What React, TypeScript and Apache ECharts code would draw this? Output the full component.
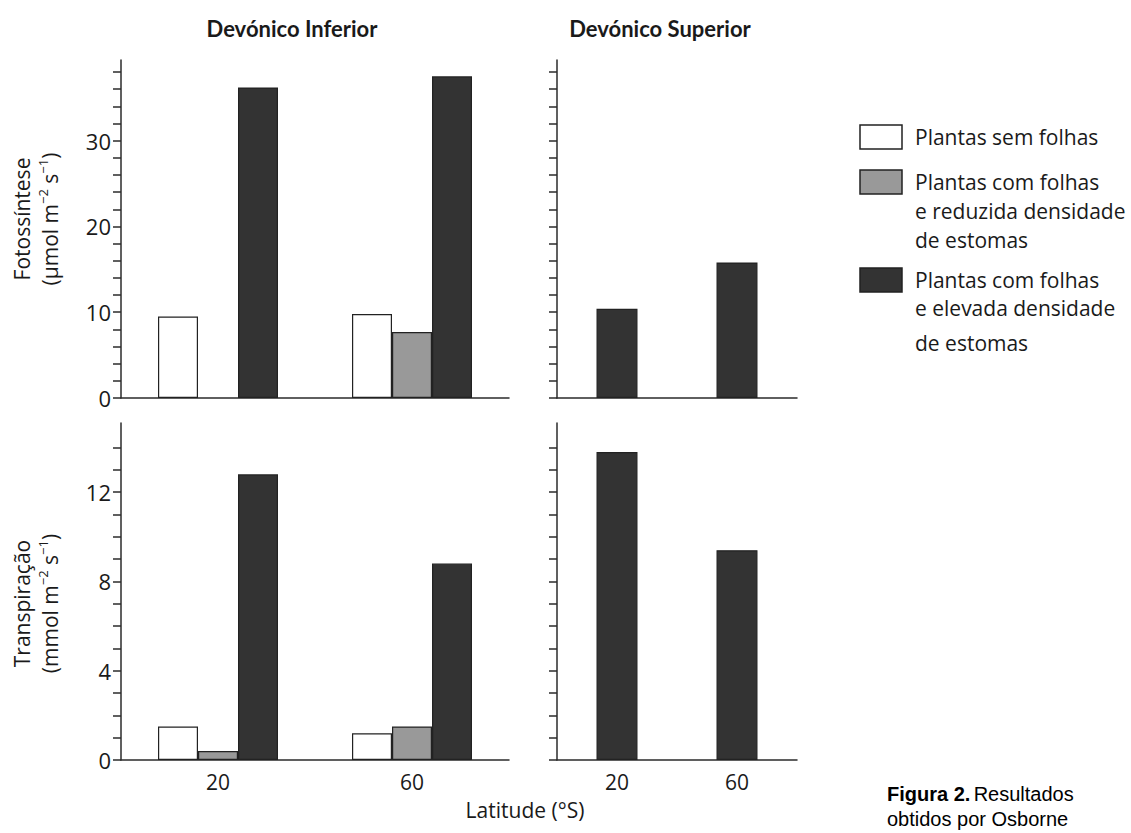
import React, { useEffect, useRef } from 'react';
import * as echarts from 'echarts';

// ---- data ----
const latitudes = ['20', '60'];
const seriesNames = ['Plantas sem folhas', 'Plantas com folhas e reduzida densidade de estomas', 'Plantas com folhas e elevada densidade de estomas'];
const legendLines = [
  ['Plantas sem folhas'],
  ['Plantas com folhas', 'e reduzida densidade', 'de estomas'],
  ['Plantas com folhas', 'e elevada densidade', 'de estomas'],
];
const periodTitles = ['Devónico Inferior', 'Devónico Superior'];

// Fotossíntese (µmol m-2 s-1)
const photoLowerNoLeaves = [9.5, 9.8];
const photoLowerLowStomata: (number | null)[] = [null, 7.7];
const photoLowerHighStomata = [36.2, 37.5];
const photoUpperHighStomata = [10.4, 15.8];

// Transpiração (mmol m-2 s-1)
const transpLowerNoLeaves = [1.5, 1.2];
const transpLowerLowStomata = [0.4, 1.5];
const transpLowerHighStomata = [12.8, 8.8];
const transpUpperHighStomata = [13.8, 9.4];

// axis ticks / labels
const photoTicks = [0, 2, 4, 6, 8, 10, 12, 14, 16, 18, 20, 22, 24, 26, 28, 30, 32, 34, 36, 38];
const photoLabels = [0, 10, 20, 30];
const transpTicks = [0, 1, 2, 3, 4, 5, 6, 7, 8, 9, 10, 11, 12, 13, 14];
const transpLabels = [0, 4, 8, 12];
const photoMax = 39.4;
const transpMax = 15.1;

const FONT = '"Open Sans", "Noto Sans", sans-serif';
const TITLE_FONT = 'Lato, "Open Sans", sans-serif';
const CAPTION_FONT = '"Liberation Sans", Arial, sans-serif';
const TEXT = '#1a1a1a';
const AXIS = '#2b2b2b';
const FILLS = ['#ffffff', '#999999', '#333333'];
const BORDER = '#222222';

export default function App() {
  const ref = useRef<HTMLDivElement>(null);
  useEffect(() => {
    if (!ref.current) return;
    const chart = echarts.init(ref.current, null, { renderer: 'svg' });

    const grids = [
      { left: 121, top: 60, width: 388, height: 338 },
      { left: 557, top: 60, width: 240, height: 338 },
      { left: 121, top: 423, width: 388, height: 337 },
      { left: 557, top: 423, width: 240, height: 337 },
    ];

    const xAxis = grids.map((_, i) => ({
      type: 'category',
      gridIndex: i,
      data: latitudes,
      axisLine: { show: true, lineStyle: { color: AXIS, width: 1.5 } },
      axisTick: { show: false },
      axisLabel: { show: i >= 2, color: TEXT, fontSize: 21, fontFamily: FONT, margin: 11 },
      splitLine: { show: false },
    }));

    const unitRich = {
      sup: { fontSize: 13, fontFamily: FONT, color: TEXT, verticalAlign: 'top', lineHeight: 28 },
      n: { fontSize: 21, fontFamily: FONT, color: TEXT, lineHeight: 28 },
    };

    const yAxis = grids.map((_, i) => {
      const isPhoto = i < 2;
      const isLeft = i % 2 === 0;
      return {
        type: 'value',
        gridIndex: i,
        min: 0,
        max: isPhoto ? photoMax : transpMax,
        axisLine: { show: true, lineStyle: { color: AXIS, width: 1.5 } },
        axisTick: {
          show: true,
          length: 8,
          customValues: isPhoto ? photoTicks : transpTicks,
          lineStyle: { color: AXIS, width: 1.5 },
        },
        axisLabel: {
          show: isLeft,
          customValues: isPhoto ? photoLabels : transpLabels,
          color: TEXT,
          fontSize: 22,
          fontFamily: FONT,
          margin: 10,
        },
        splitLine: { show: false },
        name: isLeft
          ? isPhoto
            ? '{n|Fotossíntese}\n{n|(µmol m}{sup|−2}{n| s}{sup|−1}{n|)}'
            : '{n|Transpiração}\n{n|(mmol m}{sup|−2}{n| s}{sup|−1}{n|)}'
          : '',
        nameLocation: 'middle',
        nameGap: 57,
        nameRotate: 90,
        nameTextStyle: {
          rich: unitRich,
          align: 'center',
          padding: isPhoto ? [0, 0, 0, 20] : [0, 24, 0, 0],
        },
      };
    });

    const barBase = {
      type: 'bar',
      barWidth: 40,
      barGap: '0%',
      itemStyle: { borderColor: BORDER, borderWidth: 1.2 },
    };

    const series: any[] = [
      { ...barBase, name: seriesNames[0], xAxisIndex: 0, yAxisIndex: 0, data: photoLowerNoLeaves, itemStyle: { ...barBase.itemStyle, color: FILLS[0] } },
      { ...barBase, name: seriesNames[1], xAxisIndex: 0, yAxisIndex: 0, data: photoLowerLowStomata.map((v) => (v == null ? '-' : v)), itemStyle: { ...barBase.itemStyle, color: FILLS[1] } },
      { ...barBase, name: seriesNames[2], xAxisIndex: 0, yAxisIndex: 0, data: photoLowerHighStomata, itemStyle: { ...barBase.itemStyle, color: FILLS[2] } },
      { ...barBase, name: seriesNames[2], xAxisIndex: 1, yAxisIndex: 1, data: photoUpperHighStomata, barWidth: 41, itemStyle: { ...barBase.itemStyle, color: FILLS[2] } },
      { ...barBase, name: seriesNames[0], xAxisIndex: 2, yAxisIndex: 2, data: transpLowerNoLeaves, itemStyle: { ...barBase.itemStyle, color: FILLS[0] } },
      { ...barBase, name: seriesNames[1], xAxisIndex: 2, yAxisIndex: 2, data: transpLowerLowStomata, itemStyle: { ...barBase.itemStyle, color: FILLS[1] } },
      { ...barBase, name: seriesNames[2], xAxisIndex: 2, yAxisIndex: 2, data: transpLowerHighStomata, itemStyle: { ...barBase.itemStyle, color: FILLS[2] } },
      { ...barBase, name: seriesNames[2], xAxisIndex: 3, yAxisIndex: 3, data: transpUpperHighStomata, barWidth: 41, itemStyle: { ...barBase.itemStyle, color: FILLS[2] } },
    ];

    // legend drawn as graphic (icon aligned with first text line)
    const legendTops = [125, 170, 268];
    const lineGaps = [[0], [0, 29, 58], [0, 28, 63]];
    const legendGraphics: any[] = [];
    legendLines.forEach((lines, k) => {
      legendGraphics.push({
        type: 'rect',
        shape: { x: 860, y: legendTops[k], width: 42, height: 24 },
        style: { fill: FILLS[k], stroke: BORDER, lineWidth: 1.5 },
      });
      lines.forEach((ln, j) => {
        legendGraphics.push({
          type: 'text',
          x: 915,
          y: legendTops[k] + 12 + lineGaps[k][j],
          style: { text: ln, fill: TEXT, font: `21px ${FONT}`, verticalAlign: 'middle', align: 'left' },
        });
      });
    });

    const graphic: any[] = [
      {
        type: 'text', x: 292, y: 28,
        style: { text: periodTitles[0], fill: TEXT, font: `bold 22px ${TITLE_FONT}`, align: 'center', verticalAlign: 'middle' },
      },
      {
        type: 'text', x: 660, y: 28,
        style: { text: periodTitles[1], fill: TEXT, font: `bold 22px ${TITLE_FONT}`, align: 'center', verticalAlign: 'middle' },
      },
      {
        type: 'text', x: 525, y: 810,
        style: { text: 'Latitude (°S)', fill: TEXT, font: `21px ${FONT}`, align: 'center', verticalAlign: 'middle' },
      },
      {
        type: 'text', x: 887, y: 794,
        style: {
          text: '{b|Figura 2.} {r|Resultados}',
          verticalAlign: 'middle',
          align: 'left',
          rich: {
            b: { font: `bold 20px ${CAPTION_FONT}`, fill: '#000' },
            r: { font: `20px ${CAPTION_FONT}`, fill: '#000' },
          },
        },
      },
      {
        type: 'text', x: 887, y: 819,
        style: { text: 'obtidos por Osborne', fill: '#000', font: `20px ${CAPTION_FONT}`, verticalAlign: 'middle', align: 'left' },
      },
      ...legendGraphics,
    ];

    chart.setOption({
      animation: false,
      backgroundColor: '#ffffff',
      grid: grids,
      xAxis,
      yAxis,
      series,
      graphic,
    });
    return () => chart.dispose();
  }, []);

  return <div ref={ref} style={{ position: 'fixed', left: 0, top: 0, width: 1131, height: 833 }} />;
}
